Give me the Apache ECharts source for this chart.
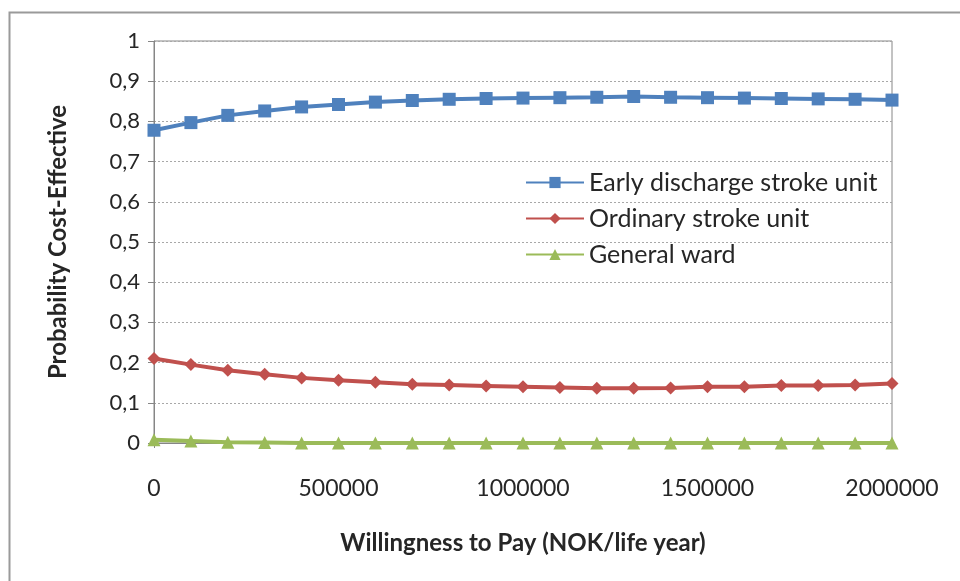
<!DOCTYPE html>
<html>
<head>
<meta charset="utf-8">
<script src="https://cdn.jsdelivr.net/npm/echarts@6/dist/echarts.min.js"></script>
<style>
  html, body { margin: 0; padding: 0; background: #ffffff; }
  #chart { width: 960px; height: 581px; }
</style>
</head>
<body>
<div id="chart"></div>
<script>
// Willingness-to-pay thresholds (NOK per life year)
const wtp = [0, 100000, 200000, 300000, 400000, 500000, 600000, 700000, 800000, 900000,
  1000000, 1100000, 1200000, 1300000, 1400000, 1500000, 1600000, 1700000, 1800000, 1900000, 2000000];

// Probability that each strategy is cost-effective
const earlyDischarge = [0.778, 0.797, 0.815, 0.826, 0.836, 0.842, 0.848, 0.852, 0.855, 0.857,
  0.858, 0.859, 0.860, 0.862, 0.860, 0.859, 0.858, 0.857, 0.856, 0.855, 0.853];
const ordinaryUnit = [0.210, 0.195, 0.181, 0.171, 0.162, 0.156, 0.151, 0.146, 0.144, 0.142,
  0.140, 0.138, 0.136, 0.136, 0.137, 0.140, 0.140, 0.143, 0.143, 0.144, 0.148];
const generalWard = [0.008, 0.005, 0.002, 0.001, 0.000, 0.000, 0.000, 0.000, 0.000, 0.000,
  0.000, 0.000, 0.000, 0.000, 0.000, 0.000, 0.000, 0.000, 0.000, 0.000, 0.000];

const seriesNames = ['Early discharge stroke unit', 'Ordinary stroke unit', 'General ward'];
const xTitle = 'Willingness to Pay (NOK/life year)';
const yTitle = 'Probability Cost-Effective';

const FONT = 'Lato, Carlito, "Liberation Sans", sans-serif';
const pairs = (ys) => wtp.map((x, i) => [x, ys[i]]);

const chart = echarts.init(document.getElementById('chart'), null, { renderer: 'canvas' });

function lineSeries(name, data, color, symbol, size) {
  return {
    name: name,
    type: 'line',
    data: pairs(data),
    symbol: symbol,
    symbolSize: size,
    showSymbol: true,
    lineStyle: { color: color, width: 4 },
    itemStyle: { color: color },
    emphasis: { disabled: true },
    animation: false
  };
}

chart.setOption({
  backgroundColor: '#ffffff',
  textStyle: { fontFamily: FONT },
  graphic: [{
    type: 'polyline',
    shape: { points: [[9.5, 581], [9.5, 12.5], [960, 12.5]] },
    style: { stroke: '#9a9a9a', lineWidth: 2, fill: null },
    silent: true
  }],
  grid: {
    left: 154, top: 41, right: 68, bottom: 138,
    show: true, borderColor: '#868686', borderWidth: 1, backgroundColor: 'transparent'
  },
  legend: {
    orient: 'vertical',
    left: 520, top: 165,
    itemWidth: 58, itemHeight: 14, itemGap: 11,
    textStyle: { fontFamily: FONT, fontSize: 25, color: '#262626' },
    data: seriesNames
  },
  xAxis: {
    type: 'value',
    min: 0, max: 2000000, interval: 500000,
    name: xTitle,
    nameLocation: 'middle',
    nameGap: 88,
    nameTextStyle: { fontFamily: FONT, fontSize: 24, fontWeight: 'bold', color: '#262626' },
    axisLine: { show: true, lineStyle: { color: '#868686', width: 1 } },
    axisTick: { show: true, length: 5, lineStyle: { color: '#868686' } },
    axisLabel: {
      margin: 34, fontFamily: FONT, fontSize: 23, color: '#262626',
      formatter: (v) => String(Math.round(v))
    },
    splitLine: { show: false }
  },
  yAxis: {
    type: 'value',
    min: 0, max: 1, interval: 0.1,
    name: yTitle,
    nameLocation: 'middle',
    nameGap: 84,
    nameRotate: 90,
    nameTextStyle: { fontFamily: FONT, fontSize: 24, fontWeight: 'bold', color: '#262626' },
    axisLine: { show: true, lineStyle: { color: '#868686', width: 1 } },
    axisTick: { show: true, inside: false, length: 6, lineStyle: { color: '#868686' } },
    axisLabel: {
      margin: 14, fontFamily: FONT, fontSize: 22, color: '#262626',
      formatter: (v) => (Math.round(v * 10) / 10).toString().replace('.', ',')
    },
    splitLine: { show: true, lineStyle: { color: '#a8a8a8', width: 1, type: [2, 2] } }
  },
  series: [
    lineSeries(seriesNames[0], earlyDischarge, '#4F81BD', 'rect', 13),
    lineSeries(seriesNames[1], ordinaryUnit, '#C0504D', 'diamond', 13),
    lineSeries(seriesNames[2], generalWard, '#9BBB59', 'triangle', 13)
  ]
});
</script>
</body>
</html>
